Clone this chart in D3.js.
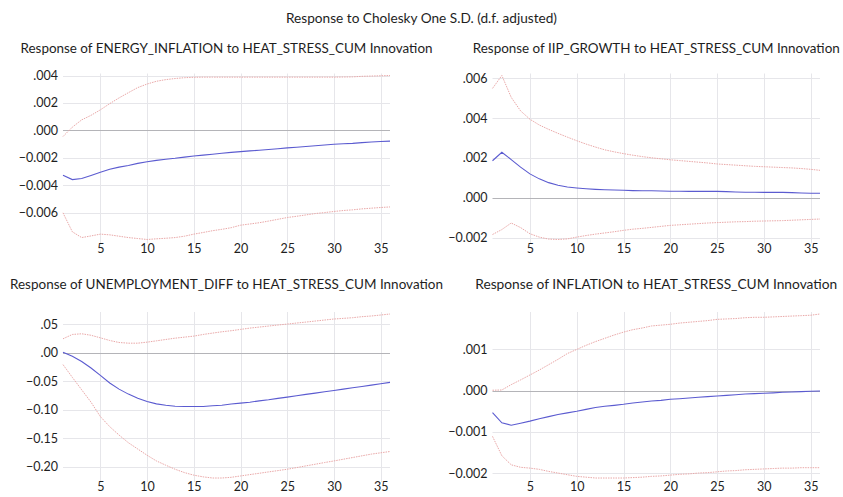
<!DOCTYPE html>
<html>
<head>
<meta charset="utf-8">
<script src="https://cdn.jsdelivr.net/npm/d3@7"></script>
<style>
  html, body { margin: 0; padding: 0; background: #fff; }
  svg { display: block; }
  text { font-family: Lato, "Open Sans", sans-serif; fill: #1e1e1e; }
</style>
</head>
<body>
<svg id="chart" width="843" height="497"></svg>
<script>
// ---------------- data ----------------
const periods = d3.range(1, 37);
const xTicks = [5, 10, 15, 20, 25, 30, 35];

const mainTitle = "Response to Cholesky One S.D. (d.f. adjusted)";
const panelTitles = [
  "Response of ENERGY_INFLATION to HEAT_STRESS_CUM Innovation",
  "Response of IIP_GROWTH to HEAT_STRESS_CUM Innovation",
  "Response of UNEMPLOYMENT_DIFF to HEAT_STRESS_CUM Innovation",
  "Response of INFLATION to HEAT_STRESS_CUM Innovation"
];

// ENERGY_INFLATION
const energyResp = [-0.00327,-0.00358,-0.00350,-0.00328,-0.00305,-0.00283,-0.00267,-0.00255,-0.00240,-0.00228,
  -0.00218,-0.00210,-0.00203,-0.00194,-0.00186,-0.00180,-0.00173,-0.00166,-0.00160,-0.00154,
  -0.00149,-0.00144,-0.00139,-0.00133,-0.00127,-0.00122,-0.00117,-0.00112,-0.00106,-0.00100,
  -0.00097,-0.00094,-0.00089,-0.00084,-0.00080,-0.00078];
const energyUpper = [-0.00044,0.00024,0.00077,0.00110,0.00150,0.00195,0.00237,0.00275,0.00312,0.00338,
  0.00358,0.00370,0.00378,0.00384,0.00387,0.00388,0.00388,0.00388,0.00388,0.00388,
  0.00388,0.00388,0.00388,0.00388,0.00388,0.00388,0.00388,0.00388,0.00388,0.00388,
  0.00389,0.00390,0.00394,0.00396,0.00398,0.00400];
const energyLower = [-0.00600,-0.00738,-0.00780,-0.00768,-0.00755,-0.00760,-0.00770,-0.00780,-0.00787,-0.00794,
  -0.00789,-0.00785,-0.00780,-0.00770,-0.00755,-0.00743,-0.00730,-0.00720,-0.00708,-0.00690,
  -0.00681,-0.00672,-0.00660,-0.00647,-0.00634,-0.00625,-0.00615,-0.00605,-0.00598,-0.00590,
  -0.00583,-0.00578,-0.00571,-0.00566,-0.00561,-0.00557];
const energyTicks = [0.004, 0.002, 0.000, -0.002, -0.004, -0.006];

// IIP_GROWTH
const iipResp = [0.00186,0.00229,0.00192,0.00154,0.00120,0.00095,0.00076,0.00063,0.00054,0.00049,
  0.00045,0.00042,0.00040,0.00039,0.00038,0.00036,0.00035,0.00035,0.00034,0.00033,
  0.00033,0.00032,0.00032,0.00032,0.00032,0.00031,0.00029,0.00028,0.00028,0.00027,
  0.00027,0.00027,0.00026,0.00024,0.00023,0.00023];
const iipUpper = [0.00550,0.00615,0.00505,0.00437,0.00395,0.00366,0.00344,0.00324,0.00305,0.00287,
  0.00270,0.00255,0.00241,0.00231,0.00222,0.00214,0.00207,0.00201,0.00196,0.00191,
  0.00187,0.00183,0.00179,0.00175,0.00170,0.00167,0.00164,0.00161,0.00158,0.00156,
  0.00154,0.00152,0.00150,0.00147,0.00143,0.00138];
const iipLower = [-0.00185,-0.00160,-0.00127,-0.00150,-0.00181,-0.00198,-0.00208,-0.00210,-0.00207,-0.00198,
  -0.00190,-0.00183,-0.00177,-0.00171,-0.00164,-0.00158,-0.00154,-0.00149,-0.00144,-0.00139,
  -0.00136,-0.00133,-0.00130,-0.00127,-0.00125,-0.00123,-0.00121,-0.00120,-0.00118,-0.00117,
  -0.00116,-0.00115,-0.00113,-0.00111,-0.00109,-0.00107];
const iipTicks = [0.006, 0.004, 0.002, 0.000, -0.002];

// UNEMPLOYMENT_DIFF
const unempResp = [0.001,-0.006,-0.015,-0.0265,-0.0395,-0.053,-0.0637,-0.0725,-0.0796,-0.0855,
  -0.0896,-0.092,-0.0937,-0.0943,-0.0943,-0.0943,-0.093,-0.092,-0.090,-0.0884,
  -0.0867,-0.0843,-0.0825,-0.080,-0.0778,-0.0755,-0.073,-0.0708,-0.0684,-0.066,
  -0.0637,-0.0613,-0.059,-0.0566,-0.0542,-0.0519];
const unempUpper = [0.0248,0.0324,0.0336,0.031,0.0265,0.0218,0.0183,0.0171,0.0171,0.0189,
  0.0212,0.0236,0.0259,0.0277,0.0295,0.0324,0.0348,0.0371,0.039,0.0413,
  0.0436,0.0454,0.0472,0.049,0.0507,0.0525,0.0542,0.056,0.0578,0.0596,
  0.0607,0.0619,0.0637,0.0649,0.0666,0.0684];
const unempLower = [-0.0206,-0.043,-0.0649,-0.0867,-0.112,-0.1297,-0.1445,-0.158,-0.169,-0.18,
  -0.19,-0.1975,-0.2046,-0.2105,-0.215,-0.218,-0.22,-0.22,-0.2188,-0.2164,
  -0.214,-0.2117,-0.2093,-0.207,-0.2046,-0.2017,-0.1987,-0.1958,-0.1928,-0.19,
  -0.187,-0.184,-0.181,-0.178,-0.1757,-0.1734];
const unempTicks = [0.05, 0.00, -0.05, -0.10, -0.15, -0.20];

// INFLATION
const inflResp = [-0.000535,-0.00078,-0.00084,-0.00079,-0.00074,-0.00068,-0.00063,-0.00058,-0.00054,-0.00050,
  -0.000454,-0.00041,-0.00038,-0.000357,-0.000332,-0.00030,-0.000276,-0.00025,-0.000235,-0.00021,
  -0.000195,-0.000178,-0.00016,-0.000146,-0.00013,-0.000114,-0.00010,-0.000081,-0.000073,-0.000065,
  -0.000055,-0.00004,-0.000032,-0.000024,-0.000016,-0.000008];
const inflUpper = [0.00001,0.000016,0.000146,0.00026,0.00038,0.00050,0.00063,0.00076,0.00090,0.00100,
  0.00110,0.00119,0.00127,0.00135,0.00142,0.00148,0.00152,0.00157,0.00159,0.00161,
  0.00164,0.00166,0.00168,0.00170,0.00173,0.00174,0.00175,0.00177,0.00178,0.00178,
  0.00179,0.00180,0.00181,0.00182,0.00183,0.00186];
const inflLower = [-0.00111,-0.00158,-0.00180,-0.00186,-0.00188,-0.00191,-0.00196,-0.00200,-0.00204,-0.00208,
  -0.00210,-0.00212,-0.00212,-0.00212,-0.00212,-0.00211,-0.00210,-0.00208,-0.00207,-0.00205,
  -0.00203,-0.00202,-0.00200,-0.00199,-0.00197,-0.00195,-0.00194,-0.00192,-0.00191,-0.00190,
  -0.00189,-0.00188,-0.00188,-0.00187,-0.00187,-0.00187];
const inflTicks = [0.001, 0.000, -0.001, -0.002];

// ---------------- layout ----------------
const panels = [
  { title: panelTitles[0], resp: energyResp, upper: energyUpper, lower: energyLower, ticks: energyTicks, fmt: ".3f",
    x0: 63, x1: 390, yTop: 75.5, yBot: 239.5, titleY: 47.5, titleW: 412 },
  { title: panelTitles[1], resp: iipResp, upper: iipUpper, lower: iipLower, ticks: iipTicks, fmt: ".3f",
    x0: 492.5, x1: 820, yTop: 75.5, yBot: 239.5, titleY: 47.5, titleW: 367 },
  { title: panelTitles[2], resp: unempResp, upper: unempUpper, lower: unempLower, ticks: unempTicks, fmt: ".2f",
    x0: 63, x1: 390, yTop: 314, yBot: 478, titleY: 284, titleW: 433 },
  { title: panelTitles[3], resp: inflResp, upper: inflUpper, lower: inflLower, ticks: inflTicks, fmt: ".3f",
    x0: 492.5, x1: 820, yTop: 314, yBot: 478, titleY: 284, titleW: 362 }
];

const svg = d3.select("#chart");

svg.append("text")
  .attr("x", 421.5).attr("y", 18)
  .attr("text-anchor", "middle")
  .attr("dominant-baseline", "central")
  .attr("font-size", 13.5)
  .attr("textLength", 271).attr("lengthAdjust", "spacingAndGlyphs")
  .text(mainTitle);

function fmtTick(f) {
  const base = d3.format(f);
  return v => base(v).replace(/^(-?)0\./, "$1.").replace(/^-(\.0+)$/, "$1");
}

panels.forEach(p => {
  const g = svg.append("g");
  const all = p.resp.concat(p.upper, p.lower);
  const x = d3.scaleLinear().domain([1, 36]).range([p.x0, p.x1]);
  const y = d3.scaleLinear().domain(d3.extent(all)).range([p.yBot, p.yTop]);

  const gTop = p.yTop - 2, gBot = p.yBot + 4;

  // vertical grid
  g.append("g").selectAll("line").data(xTicks).join("line")
    .attr("x1", d => Math.round(x(d)) + 0.5).attr("x2", d => Math.round(x(d)) + 0.5)
    .attr("y1", gTop).attr("y2", gBot)
    .attr("stroke", "#e6e6ea").attr("stroke-width", 1);

  // horizontal grid
  g.append("g").selectAll("line").data(p.ticks).join("line")
    .attr("x1", p.x0).attr("x2", p.x1)
    .attr("y1", d => Math.round(y(d)) + 0.5).attr("y2", d => Math.round(y(d)) + 0.5)
    .attr("stroke", d => d === 0 ? "#b4b4b8" : "#e6e6ea").attr("stroke-width", 1);

  // y axis labels via d3 axis
  const yAxis = d3.axisLeft(y).tickValues(p.ticks).tickFormat(fmtTick(p.fmt)).tickSize(0).tickPadding(5);
  const ya = g.append("g").attr("transform", `translate(${p.x0},0)`).call(yAxis);
  ya.select(".domain").remove();
  ya.selectAll("text").attr("font-size", 12.5).attr("fill", "#2a2a2a").attr("font-family", "Lato, sans-serif");

  // x axis labels
  const xAxis = d3.axisBottom(x).tickValues(xTicks).tickSize(0).tickPadding(0);
  const xa = g.append("g").attr("transform", `translate(0,${p.yBot + 4.5})`).call(xAxis);
  xa.select(".domain").remove();
  xa.selectAll("text").attr("font-size", 12.5).attr("fill", "#2a2a2a").attr("font-family", "Lato, sans-serif")
    .attr("dy", "0.71em");

  const line = d3.line().x((d, i) => x(periods[i])).y(d => y(d));

  g.append("path").datum(p.upper).attr("d", line)
    .attr("fill", "none").attr("stroke", "#eaa8a8").attr("stroke-width", 1)
    .attr("stroke-dasharray", "1.5,1");
  g.append("path").datum(p.lower).attr("d", line)
    .attr("fill", "none").attr("stroke", "#eaa8a8").attr("stroke-width", 1)
    .attr("stroke-dasharray", "1.5,1");
  g.append("path").datum(p.resp).attr("d", line)
    .attr("fill", "none").attr("stroke", "#5b5bd0").attr("stroke-width", 1.1);

  // panel title
  svg.append("text")
    .attr("x", (p.x0 + p.x1) / 2).attr("y", p.titleY)
    .attr("text-anchor", "middle")
    .attr("dominant-baseline", "central")
    .attr("font-size", 13.5)
    .attr("textLength", p.titleW).attr("lengthAdjust", "spacingAndGlyphs")
    .text(p.title);
});
</script>
</body>
</html>
